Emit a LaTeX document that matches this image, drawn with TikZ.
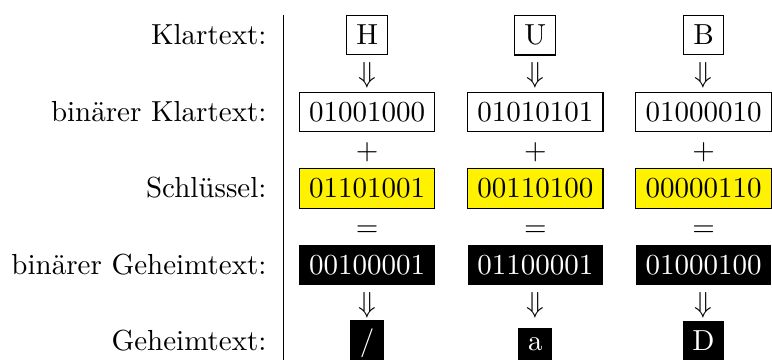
\documentclass[tikz,border=0pt]{standalone}
\usepackage{fontspec}
\usetikzlibrary{matrix,calc}

\tikzset{
	plainbox/.style={draw},
	keybox/.style={draw,fill=yellow},
	cipherbox/.style={fill=black,text=white},
}

\begin{document}
\begin{tikzpicture}
	\matrix (m) [matrix of nodes, row sep={13.2pt,between origins}, column sep={58pt,between origins}, nodes={anchor=base}, column 1/.style={nodes={anchor=base east}}]
	{
		Klartext: &[-26.8pt] |[plainbox]| H & |[plainbox]| U & |[plainbox]| B \\
		&[-26.8pt] $\Downarrow$ & $\Downarrow$ & $\Downarrow$ \\
		binärer Klartext: &[-26.8pt] |[plainbox]| 01001000 & |[plainbox]| 01010101 & |[plainbox]| 01000010 \\
		&[-26.8pt] $+$ & $+$ & $+$ \\
		Schlüssel: &[-26.8pt] |[keybox]| 01101001 & |[keybox]| 00110100 & |[keybox]| 00000110 \\
		&[-26.8pt] $=$ & $=$ & $=$ \\
		binärer Geheimtext: &[-26.8pt] |[cipherbox]| 00100001 & |[cipherbox]| 01100001 & |[cipherbox]| 01000100 \\
		&[-26.8pt] $\Downarrow$ & $\Downarrow$ & $\Downarrow$ \\
		Geheimtext: &[-26.8pt] |[cipherbox]| / & |[cipherbox]| a & |[cipherbox]| D \\
	};
	% trennlinie
	\coordinate (ruletop) at ([xshift=2.4pt]m-1-1.base east |- m-1-2.north);
	\coordinate (rulebottom) at ($(ruletop |- m-1-2.base)+(0,-108.7pt)$);
	\draw (ruletop) -- (rulebottom);
	\pgfresetboundingbox
	\useasboundingbox ($(m-1-2.base)+(-126.6pt,15.4pt)$) rectangle +(266.2pt,-124.1pt);
\end{tikzpicture}
\end{document}
